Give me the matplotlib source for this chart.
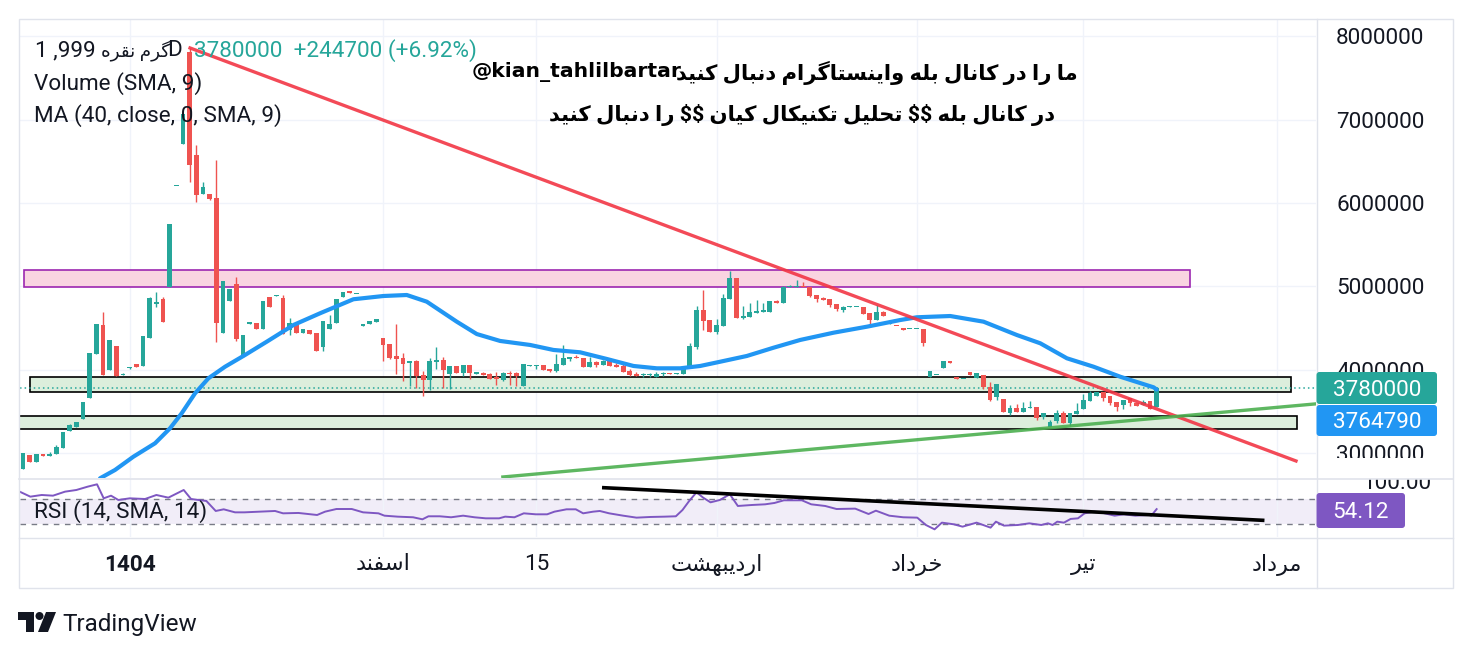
import matplotlib
matplotlib.use("Agg")
import matplotlib.pyplot as plt
from matplotlib.patches import Rectangle, Polygon, Circle, FancyBboxPatch

plt.rcParams['font.family'] = ['Roboto', 'DejaVu Sans']

# ---------------- data (prices in millions) ----------------
opens = [2.812, 2.980, 2.899, 2.990, 2.970, 2.992, 3.067, 3.271, 3.319, 3.415,
         3.667, 4.191, 4.538, 3.999, 4.287, 3.940, 4.020, 4.067, 4.047, 4.382,
         4.790, 4.850, 4.998, 6.200, 6.705, 7.815, 6.577, 6.106, 6.109, 6.058,
         4.446, 4.830, 5.030, 4.158, 4.555, 4.559, 4.487, 4.870, 4.890, 4.858,
         4.478, 4.538, 4.446, 4.478, 4.446, 4.278, 4.490, 4.559, 4.878, 4.946,
         4.905, 4.526, 4.550, 4.578, 4.379, 4.310, 4.167, 4.143, 4.079, 4.110,
         3.935, 3.879, 4.098, 4.119, 3.954, 4.043, 3.966, 4.059, 3.955, 3.963,
         3.951, 3.915, 3.879, 3.955, 3.959, 3.807, 4.050, 4.050, 4.055, 4.015,
         3.987, 4.063, 4.135, 4.141, 4.147, 4.038, 4.099, 4.055, 4.110, 4.059,
         4.047, 3.987, 3.951, 3.938, 3.935, 3.911, 3.953, 3.957, 3.947, 3.955,
         4.026, 4.271, 4.718, 4.598, 4.458, 4.530, 4.854, 5.102, 4.626, 4.638,
         4.686, 4.700, 4.698, 4.826, 4.806, 4.995, 4.995, 4.995, 4.990, 4.902,
         4.862, 4.850, 4.794, 4.718, 4.752, 4.752, 4.754, 4.686, 4.598, 4.694,
         4.556, 4.532, 4.500, 4.485, 4.485, 4.490, 3.911, 3.933, 4.026, 4.092,
         3.915, 3.885, 3.971, 3.899, 3.942, 3.799, 3.679, 3.651, 3.487, 3.539,
         3.491, 3.539, 3.555, 3.431, 3.319, 3.391, 3.487, 3.367, 3.471, 3.527,
         3.631, 3.691, 3.739, 3.687, 3.619, 3.579, 3.667, 3.599, 3.579, 3.627,
         3.559]
highs = [3.007, 2.985, 2.992, 2.992, 3.010, 3.100, 3.255, 3.350, 3.372, 3.615,
         4.203, 4.550, 4.694, 4.358, 4.287, 3.960, 4.040, 4.070, 4.406, 4.880,
         4.940, 4.870, 5.749, 6.210, 7.065, 7.856, 6.697, 6.257, 6.109, 6.517,
         5.066, 4.966, 5.110, 4.418, 4.565, 4.559, 4.826, 4.870, 4.898, 4.900,
         4.619, 4.538, 4.487, 4.478, 4.446, 4.586, 4.660, 4.847, 4.938, 4.950,
         4.912, 4.550, 4.586, 4.607, 4.379, 4.310, 4.550, 4.199, 4.107, 4.120,
         3.987, 4.146, 4.275, 4.150, 4.043, 4.043, 4.055, 4.059, 3.975, 3.975,
         3.960, 3.975, 3.975, 3.987, 3.970, 4.071, 4.060, 4.060, 4.055, 4.015,
         4.191, 4.299, 4.160, 4.180, 4.147, 4.160, 4.110, 4.120, 4.143, 4.080,
         4.070, 4.010, 3.975, 3.960, 3.960, 3.975, 3.975, 3.965, 3.965, 4.045,
         4.320, 4.766, 4.958, 4.598, 4.607, 4.910, 5.190, 5.102, 4.766, 4.802,
         4.838, 4.800, 4.826, 4.835, 5.010, 5.020, 5.080, 5.050, 4.990, 4.902,
         4.870, 4.850, 4.794, 4.770, 4.770, 4.758, 4.754, 4.686, 4.780, 4.710,
         4.562, 4.532, 4.500, 4.489, 4.489, 4.490, 3.987, 3.937, 4.107, 4.092,
         3.915, 3.889, 3.971, 3.963, 3.942, 3.855, 3.831, 3.651, 3.575, 3.587,
         3.610, 3.627, 3.555, 3.479, 3.396, 3.520, 3.511, 3.479, 3.600, 3.707,
         3.747, 3.739, 3.739, 3.687, 3.619, 3.639, 3.667, 3.599, 3.640, 3.627,
         3.780]
lows = [2.812, 2.899, 2.899, 2.970, 2.970, 2.992, 3.067, 3.271, 3.319, 3.415,
        3.667, 4.191, 3.939, 3.999, 3.927, 3.935, 4.015, 4.035, 4.047, 4.382,
        4.760, 4.574, 4.998, 6.200, 6.705, 6.257, 6.017, 6.106, 6.040, 4.338,
        4.446, 4.830, 4.350, 4.158, 4.555, 4.487, 4.487, 4.758, 4.890, 4.427,
        4.418, 4.446, 4.446, 4.430, 4.230, 4.230, 4.490, 4.559, 4.878, 4.918,
        4.905, 4.526, 4.550, 4.578, 4.110, 4.127, 3.951, 3.871, 3.807, 3.779,
        3.687, 3.759, 4.011, 3.779, 3.767, 3.966, 3.930, 3.895, 3.955, 3.942,
        3.895, 3.819, 3.870, 3.819, 3.807, 3.807, 4.050, 4.011, 3.999, 3.970,
        3.970, 4.063, 4.110, 4.139, 4.031, 4.038, 4.040, 4.055, 4.047, 4.030,
        3.979, 3.930, 3.925, 3.920, 3.918, 3.911, 3.930, 3.953, 3.947, 3.955,
        4.026, 4.247, 4.478, 4.458, 4.427, 4.530, 4.854, 4.626, 4.607, 4.638,
        4.686, 4.700, 4.698, 4.806, 4.806, 4.995, 4.995, 4.990, 4.870, 4.820,
        4.834, 4.760, 4.710, 4.700, 4.752, 4.752, 4.674, 4.510, 4.598, 4.650,
        4.556, 4.528, 4.480, 4.485, 4.485, 4.290, 3.911, 3.933, 4.026, 4.088,
        3.887, 3.885, 3.942, 3.899, 3.775, 3.627, 3.639, 3.499, 3.459, 3.491,
        3.491, 3.539, 3.399, 3.415, 3.319, 3.360, 3.360, 3.327, 3.471, 3.527,
        3.631, 3.691, 3.627, 3.580, 3.510, 3.527, 3.570, 3.567, 3.579, 3.527,
        3.559]
closes = [3.007, 2.899, 2.992, 2.970, 2.990, 3.072, 3.255, 3.339, 3.372, 3.615,
          4.203, 4.550, 3.939, 4.358, 3.927, 3.955, 4.035, 4.035, 4.406, 4.862,
          4.820, 4.574, 5.749, 6.205, 7.065, 6.457, 6.097, 6.197, 6.049, 4.559,
          5.066, 4.966, 4.367, 4.418, 4.560, 4.487, 4.826, 4.758, 4.894, 4.427,
          4.559, 4.446, 4.487, 4.430, 4.230, 4.586, 4.550, 4.847, 4.938, 4.918,
          4.910, 4.550, 4.586, 4.607, 4.299, 4.146, 4.131, 4.071, 4.107, 3.927,
          3.879, 4.107, 4.119, 4.000, 4.043, 3.966, 4.055, 3.959, 3.960, 3.942,
          3.895, 3.887, 3.963, 3.950, 3.927, 4.071, 4.055, 4.055, 3.999, 3.987,
          4.067, 4.143, 4.139, 4.139, 4.031, 4.095, 4.055, 4.107, 4.047, 4.035,
          3.979, 3.939, 3.931, 3.942, 3.955, 3.955, 3.957, 3.953, 3.959, 4.038,
          4.287, 4.718, 4.590, 4.458, 4.538, 4.866, 5.102, 4.626, 4.647, 4.694,
          4.703, 4.705, 4.826, 4.806, 4.990, 4.998, 5.000, 4.990, 4.890, 4.854,
          4.834, 4.782, 4.734, 4.754, 4.756, 4.756, 4.674, 4.598, 4.694, 4.650,
          4.559, 4.528, 4.480, 4.487, 4.487, 4.319, 3.987, 3.935, 4.107, 4.088,
          3.887, 3.887, 3.942, 3.959, 3.799, 3.639, 3.831, 3.499, 3.547, 3.491,
          3.539, 3.555, 3.427, 3.479, 3.375, 3.479, 3.360, 3.479, 3.511, 3.639,
          3.719, 3.739, 3.667, 3.607, 3.559, 3.639, 3.599, 3.567, 3.619, 3.5353,
          3.780]

# MA(40) line sampled from the chart (bar index, price in millions)
ma_idx = [11.55, 13.8, 16.55, 19.8, 22.05, 23.8, 25.8, 27.8, 30.3, 33.3, 36.55, 40.55,
          44.55, 49.55, 54.05, 57.55, 60.55, 63.55, 65.05, 68.05, 71.55, 76.05, 79.55,
          83.55, 87.55, 91.55, 95.05, 98.55, 101.55, 104.55, 108.55, 112.55, 116.55,
          121.55, 126.55, 131.55, 134.05, 139.05, 144.05, 149.05, 152.55, 156.55,
          160.55, 164.55, 169.55, 170.0]
ma_val = [2.700, 2.800, 2.959, 3.120, 3.300, 3.480, 3.719, 3.899, 4.038, 4.179, 4.338, 4.538,
          4.679, 4.847, 4.886, 4.898, 4.818, 4.658, 4.578, 4.430, 4.347, 4.299, 4.239,
          4.211, 4.131, 4.047, 4.019, 4.019, 4.047, 4.098, 4.167, 4.266, 4.359,
          4.446, 4.518, 4.598, 4.631, 4.646, 4.578, 4.418, 4.319, 4.139,
          4.038, 3.918, 3.791, 3.76479]

# RSI(14) sampled from the chart
rsi_idx = [-0.5, 1.1, 2.8, 4.5, 6.3, 8.0, 9.7, 11.1, 12.1, 13.2, 14.3, 16.0, 18.3, 20.0, 21.8,
           24.1, 25.2, 27.5, 28.9, 30.1, 31.8, 33.2, 35.5, 37.8, 39.0, 41.3, 44.1, 45.3, 47.0,
           49.3, 51.0, 53.3, 54.2, 56.2, 58.5, 59.9, 60.8, 62.5, 64.2, 66.0, 67.7, 69.4, 71.4,
           72.3, 73.7, 75.1, 76.9, 78.6, 79.7, 81.5, 82.9, 84.0, 85.5, 86.5, 87.9, 90.0, 92.0,
           94.1, 96.2, 97.9, 98.9, 99.9, 101.0, 102.0, 103.1, 104.5, 106.0, 107.2, 109.3,
           111.3, 112.7, 114.1, 116.8, 118.2, 120.3, 122.0, 124.8, 126.8, 127.9, 129.9,
           132.0, 134.1, 135.4, 136.7, 137.8, 139.6, 140.9, 143.0, 145.1, 145.9, 147.1,
           149.2, 150.9, 152.7, 153.7, 154.4, 155.1, 156.1, 157.1, 158.2, 159.2, 160.6,
           161.6, 163.7, 165.1, 166.8, 168.9, 169.2, 170.0]
rsi_val = [82.4, 74.3, 77.0, 75.9, 82.4, 85.1, 90.5, 94.3, 71.6, 75.9, 68.9, 71.6, 70.5, 77.0, 72.7,
           85.1, 70.5, 67.3, 51.1, 53.8, 48.9, 48.9, 50.0, 51.1, 47.3, 47.9, 44.6, 50.0, 54.3,
           54.3, 48.9, 47.3, 43.5, 41.9, 40.9, 37.6, 42.5, 42.5, 40.9, 43.5, 40.9, 39.2, 39.2,
           41.9, 40.9, 47.3, 45.7, 45.7, 50.0, 53.8, 53.8, 47.3, 50.0, 51.1, 47.3, 43.5, 40.3,
           41.4, 41.9, 42.5, 52.7, 67.3, 81.3, 72.7, 65.1, 68.9, 78.1, 59.2, 60.8,
           61.9, 64.1, 68.4, 68.4, 61.9, 59.2, 54.3, 54.9, 46.2, 51.6, 43.5,
           40.9, 40.3, 28.4, 21.4, 32.2, 29.5, 25.7, 32.2, 24.1, 33.8, 27.4,
           28.4, 31.1, 28.4, 31.1, 28.4, 33.8, 32.2, 38.2, 39.2, 47.3, 50.0,
           48.9, 43.5, 45.7, 43.5, 44.6, 43.5, 54.12]

# drawings (bar index / price in millions)
zone_pink = (0.2, 175.0, 4.990, 5.194)
zone_green_upper = (1.1, 190.1, 3.731, 3.911)
zone_green_lower = (-5.0, 191.0, 3.295, 3.447)
red_trend = ((25.05, 7.860), (190.9, 2.908))
green_trend = ((71.96, 2.716), (196.0, 3.608))
rsi_trend = ((87.1, 88.8), (185.9, 36.0))
last_price = 3.78
last_ma = 3.76479
last_rsi = 54.12

price_ticks = [3, 4, 5, 6, 7, 8]
price_tick_labels = ["3000000", "4000000", "5000000", "6000000", "7000000", "8000000"]
time_tick_idx = [16, 54, 77, 104, 134, 159, 188]

# ---------------- minimal Persian shaping ----------------
AR_FORMS = {
    '\u0627': ('\uFE8D', '\uFE8E', None, None),
    '\u0628': ('\uFE8F', '\uFE90', '\uFE91', '\uFE92'),
    '\u062A': ('\uFE95', '\uFE96', '\uFE97', '\uFE98'),
    '\u062D': ('\uFEA1', '\uFEA2', '\uFEA3', '\uFEA4'),
    '\u062E': ('\uFEA5', '\uFEA6', '\uFEA7', '\uFEA8'),
    '\u062F': ('\uFEA9', '\uFEAA', None, None),
    '\u0631': ('\uFEAD', '\uFEAE', None, None),
    '\u0633': ('\uFEB1', '\uFEB2', '\uFEB3', '\uFEB4'),
    '\u0634': ('\uFEB5', '\uFEB6', '\uFEB7', '\uFEB8'),
    '\u0641': ('\uFED1', '\uFED2', '\uFED3', '\uFED4'),
    '\u0642': ('\uFED5', '\uFED6', '\uFED7', '\uFED8'),
    '\u0644': ('\uFEDD', '\uFEDE', '\uFEDF', '\uFEE0'),
    '\u0645': ('\uFEE1', '\uFEE2', '\uFEE3', '\uFEE4'),
    '\u0646': ('\uFEE5', '\uFEE6', '\uFEE7', '\uFEE8'),
    '\u0647': ('\uFEE9', '\uFEEA', '\uFEEB', '\uFEEC'),
    '\u0648': ('\uFEED', '\uFEEE', None, None),
    '\u06CC': ('\uFBFC', '\uFBFD', '\uFBFE', '\uFBFF'),
    '\u06A9': ('\uFB8E', '\uFB8F', '\uFB90', '\uFB91'),
    '\u06AF': ('\uFB92', '\uFB93', '\uFB94', '\uFB95'),
}
NORMALIZE = {'\u064A': '\u06CC', '\u0649': '\u06CC', '\u0643': '\u06A9'}


def rtl(s):
    s = ''.join(NORMALIZE.get(c, c) for c in s)
    out = []
    for k, ch in enumerate(s):
        f = AR_FORMS.get(ch)
        if f is None:
            out.append(ch)
            continue
        prev = s[k - 1] if k > 0 else None
        nxt = s[k + 1] if k + 1 < len(s) else None
        jp = prev in AR_FORMS and AR_FORMS[prev][2] is not None
        jn = (nxt in AR_FORMS) and f[2] is not None
        if jp and jn:
            out.append(f[3])
        elif jp:
            out.append(f[1])
        elif jn:
            out.append(f[2])
        else:
            out.append(f[0])
    return ''.join(out)[::-1]


time_tick_labels = ['1404', rtl('اسفند'), '15', rtl('اردیبهشت'), rtl('خرداد'), rtl('تیر'), rtl('مرداد')]
title_num = '1 ,999'
title_word = rtl('گرم نقره')
title_res = 'D'
quote_text = '3780000  +244700 (+6.92%)'
note_handle = '@kian_tahlilbartar'
note_line1 = rtl('ما را در کانال بله واینستاگرام دنبال کنید')
note_line2 = rtl('در کانال بله $$ تحلیل تکنیکال کیان $$ را دنبال کنید')

# ---------------- styling ----------------
W, H = 1473, 654
TXT = '#131722'
UP, DOWN = '#26A69A', '#EF5350'
GRID = '#F0F3FA'
BORDER = '#E0E3EB'
FS = 16.2

fig = plt.figure(figsize=(W / 100, H / 100), dpi=100)
fig.patch.set_facecolor('white')

ax = fig.add_axes([20 / W, 1 - 478 / H, 1296 / W, 458 / H])
axr = fig.add_axes([20 / W, 1 - 537 / H, 1296 / W, 58 / H])
XMIN, XMAX = -0.45, 193.9
for a in (ax, axr):
    a.set_xlim(XMIN, XMAX)
    for sp in a.spines.values():
        sp.set_visible(False)
    a.set_axisbelow(True)
    a.set_xticks(time_tick_idx)
    a.xaxis.grid(True, color=GRID, lw=1.0)

ax.set_ylim(2.7038, 8.1954)
ax.set_yticks(price_ticks)
ax.set_yticklabels(price_tick_labels)
ax.yaxis.tick_right()
ax.yaxis.grid(True, color=GRID, lw=1.0)
ax.tick_params(axis='y', length=0, pad=14.5, labelsize=FS, labelcolor=TXT)
ax.tick_params(axis='x', length=0, labelbottom=False)

# zones
for (x0, x1, y0, y1), fc, ec in [(zone_pink, '#F9D4E1', '#9C27B0'),
                                 (zone_green_upper, '#DCEEDC', '#000000'),
                                 (zone_green_lower, '#DCEEDC', '#000000')]:
    ax.add_patch(Rectangle((x0, y0), x1 - x0, y1 - y0, facecolor=fc, edgecolor=ec,
                           lw=1.2, zorder=1))

ax.axhline(last_price, color=UP, lw=1.1, ls=(0, (1, 2)), zorder=2)

# candles
idx = list(range(len(opens)))
cols = [UP if c >= o else DOWN for o, c in zip(opens, closes)]
ax.vlines(idx, lows, highs, colors=cols, lw=1.0, zorder=3)
bottoms = [min(o, c) for o, c in zip(opens, closes)]
heights = [max(abs(c - o), 0.014) for o, c in zip(opens, closes)]
ax.bar(idx, heights, bottom=bottoms, width=0.72, color=cols, zorder=3.5, linewidth=0)

# MA line and trend lines
ax.plot(ma_idx, ma_val, color='#2196F3', lw=3.0, solid_capstyle='round', zorder=4)
ax.plot([red_trend[0][0], red_trend[1][0]], [red_trend[0][1], red_trend[1][1]],
        color='#F23645', lw=2.4, alpha=0.9, zorder=5)
ax.plot([green_trend[0][0], green_trend[1][0]], [green_trend[0][1], green_trend[1][1]],
        color='#4CAF50', lw=2.4, alpha=0.9, zorder=5)

# RSI pane
axr.set_ylim(8.95, 102.9)
axr.axhspan(30, 70, color='#7E57C2', alpha=0.1, lw=0, zorder=0)
for lvl in (30, 70):
    axr.axhline(lvl, color='#787B86', lw=1.0, ls=(0, (4, 4)), zorder=1)
axr.plot(rsi_idx, rsi_val, color='#7E57C2', lw=1.4, zorder=3)
axr.plot([rsi_trend[0][0], rsi_trend[1][0]], [rsi_trend[0][1], rsi_trend[1][1]],
         color='black', lw=2.6, zorder=4)
axr.set_yticks([100])
axr.set_yticklabels(['100.00'])
axr.yaxis.tick_right()
axr.tick_params(axis='y', length=0, pad=33, labelsize=FS, labelcolor=TXT)
axr.set_xticklabels(time_tick_labels)
axr.tick_params(axis='x', length=0, pad=12, labelsize=FS, labelcolor=TXT)
for lab in axr.get_xticklabels():
    if lab.get_text() == '1404':
        lab.set_fontweight('bold')

# ---------------- overlay (pixel coordinates) ----------------
ov = fig.add_axes([0, 0, 1, 1], zorder=10)
ov.set_xlim(0, W)
ov.set_ylim(H, 0)
ov.axis('off')
ov.patch.set_alpha(0)

# hide the upper half of the "100.00" label
ov.add_patch(Rectangle((1317.5, 458), 134, 20.5, facecolor='white', edgecolor='none', zorder=1))

# frame lines
ov.add_patch(Rectangle((18.5, 18.5), 1434, 569, fill=False, edgecolor=BORDER, lw=1.0, zorder=2))
ov.plot([1316.5, 1316.5], [18.5, 587.5], color=BORDER, lw=1.0, zorder=2)
ov.plot([18.5, 1452.5], [478.5, 478.5], color=BORDER, lw=1.2, zorder=2)
ov.plot([18.5, 1452.5], [537.5, 537.5], color=BORDER, lw=1.0, zorder=2)


def tag(x0, y0, x1, y1, color, text):
    ov.add_patch(FancyBboxPatch((x0, y0), x1 - x0, y1 - y0,
                                boxstyle='round,pad=0,rounding_size=3',
                                facecolor=color, edgecolor='none', zorder=3))
    ov.text((x0 + x1) / 2, (y0 + y1) / 2, text, color='white', fontsize=FS,
            ha='center', va='center_baseline', zorder=4)


tag(1316.5, 372, 1437, 404, UP, '3780000')
tag(1316.5, 405, 1437, 436, '#2196F3', '3764790')
tag(1316.5, 493, 1405, 528, '#7E57C2', '54.12')

# legend texts
ov.text(35, 48, title_num, color=TXT, fontsize=FS, ha='left', va='center_baseline')
ov.text(101, 48, title_word, color=TXT, fontsize=13.2, ha='left', va='center_baseline')
ov.text(182, 48, title_res, color=TXT, fontsize=FS, ha='right', va='center_baseline')
ov.text(194, 48, quote_text, color=UP, fontsize=FS, ha='left', va='center_baseline')
ov.text(34, 81, 'Volume (SMA, 9)', color=TXT, fontsize=FS, ha='left', va='center_baseline')
ov.text(34, 113, 'MA (40, close, 0, SMA, 9)', color=TXT, fontsize=FS, ha='left', va='center_baseline')
ov.text(34, 509, 'RSI (14, SMA, 14)', color=TXT, fontsize=FS, ha='left', va='center_baseline')

# annotation
ov.text(1078, 70, note_line1, color='black', fontsize=15.2, fontweight='bold', ha='right',
        va='center_baseline', parse_math=False)
ov.text(472, 70, note_handle, color='black', fontsize=14.6, fontweight='bold', ha='left',
        va='center_baseline', parse_math=False, family=['DejaVu Sans'])
ov.text(1055, 112, note_line2, color='black', fontsize=15.3, fontweight='bold', ha='right',
        va='center_baseline', parse_math=False)

# TradingView logo
ov.add_patch(Polygon([(18, 612), (34, 612), (34, 632), (26, 632), (26, 620), (18, 620)],
                     closed=True, facecolor=TXT, edgecolor='none'))
ov.add_patch(Circle((39.5, 616), 4, facecolor=TXT, edgecolor='none'))
ov.add_patch(Polygon([(46, 612), (56, 612), (48, 632), (38, 632)], closed=True,
                     facecolor=TXT, edgecolor='none'))
ov.text(62, 622, 'TradingView', color=TXT, fontsize=17.5, ha='left', va='center_baseline')

fig.savefig('out.png', dpi=100)
